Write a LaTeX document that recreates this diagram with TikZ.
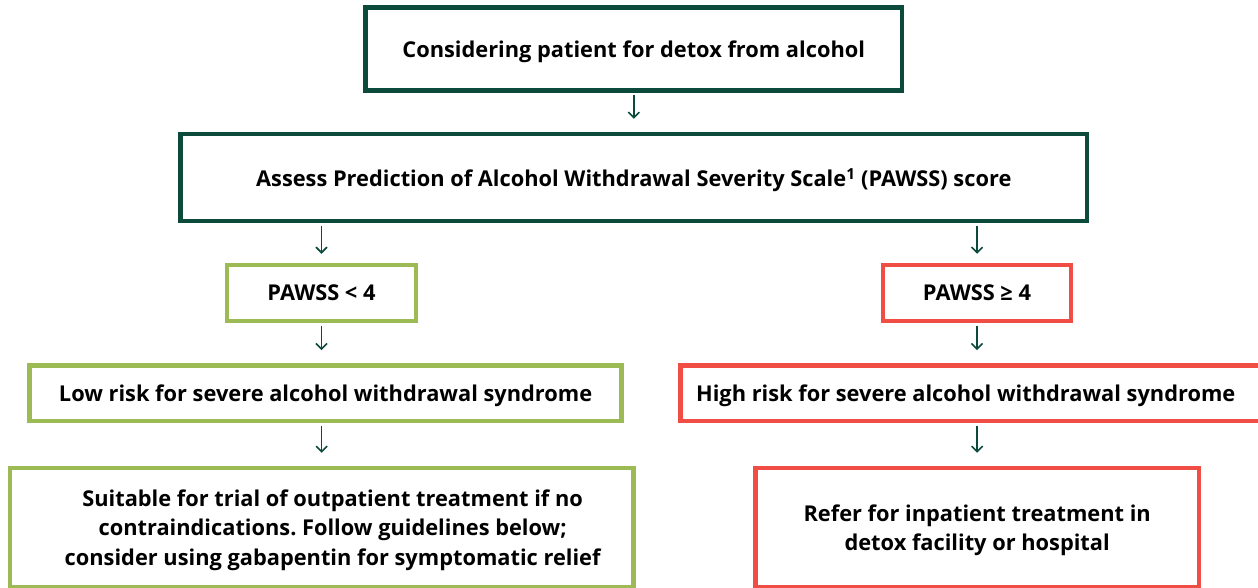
\documentclass[tikz,border=0pt]{standalone}
\usepackage{fontspec}
\setmainfont{Open Sans}
\frenchspacing
\usetikzlibrary{arrows.meta}
\definecolor{dkgreen}{HTML}{0C4A3C}
\definecolor{ltgreen}{HTML}{9DBB55}
\definecolor{redc}{HTML}{F04E45}
\begin{document}
\begin{tikzpicture}[x=1pt,y=-1pt,
  box/.style={draw, line width=4.5pt, fill=white, inner sep=0pt, align=center,
    font=\fontsize{21.8}{29.5}\selectfont\bfseries, text=black, text depth=-3pt},
  darkbox/.style={box, draw=dkgreen},
  greenbox/.style={box, draw=ltgreen},
  redbox/.style={box, draw=redc},
  flow/.style={draw=dkgreen, line width=1.6pt,
    -{Straight Barb[length=5.5pt,width=11pt,line width=1.6pt]},
    shorten <=2.25pt, shorten >=13pt}
]
\useasboundingbox (0,0) rectangle (1258,587);
\node[darkbox, minimum width=536.5pt, minimum height=83pt] (top) at (633.75,49) {Considering patient for detox from alcohol};
\node[darkbox, minimum width=906.5pt, minimum height=87pt] (assess) at (633.75,177.5) {Assess Prediction of Alcohol Withdrawal Severity Scale\textsuperscript{1} (PAWSS) score};
\node[greenbox, minimum width=189pt, minimum height=56pt, text depth=-6pt] (plow) at (321.5,293) {PAWSS < 4};
\node[redbox, minimum width=188pt, minimum height=56pt, text depth=-6pt] (phigh) at (977,293) {PAWSS ≥ 4};
\node[greenbox, minimum width=592pt, minimum height=55.7pt] (low) at (325.6,393.2) {Low risk for severe alcohol withdrawal syndrome};
\node[redbox, minimum width=581.5pt, minimum height=55.7pt] (high) at (971.25,393.2) {\hspace*{-11pt}High risk for severe alcohol withdrawal syndrome};
\node[greenbox, minimum width=623.3pt, minimum height=119pt] (out) at (321.65,527.5) {\hspace*{22pt}Suitable for trial of outpatient treatment if no\\\hspace*{22pt}contraindications. Follow guidelines below;\\\hspace*{22pt}consider using gabapentin for symptomatic relief};
\node[redbox, minimum width=443.7pt, minimum height=119pt] (in) at (977.15,527.5) {Refer for inpatient treatment in\\detox facility or hospital};
\draw[flow] (top.south) -- (assess.north);
\draw[flow, shorten >=9pt] (assess.south -| plow.north) -- (plow.north);
\draw[flow, shorten >=9pt] (assess.south -| phigh.north) -- (phigh.north);
\draw[flow] (plow.south) -- (low.north -| plow.south);
\draw[flow] (phigh.south) -- (high.north -| phigh.south);
\draw[flow] (low.south -| out.north) -- (out.north);
\draw[flow] (high.south -| in.north) -- (in.north);
\end{tikzpicture}
\end{document}
